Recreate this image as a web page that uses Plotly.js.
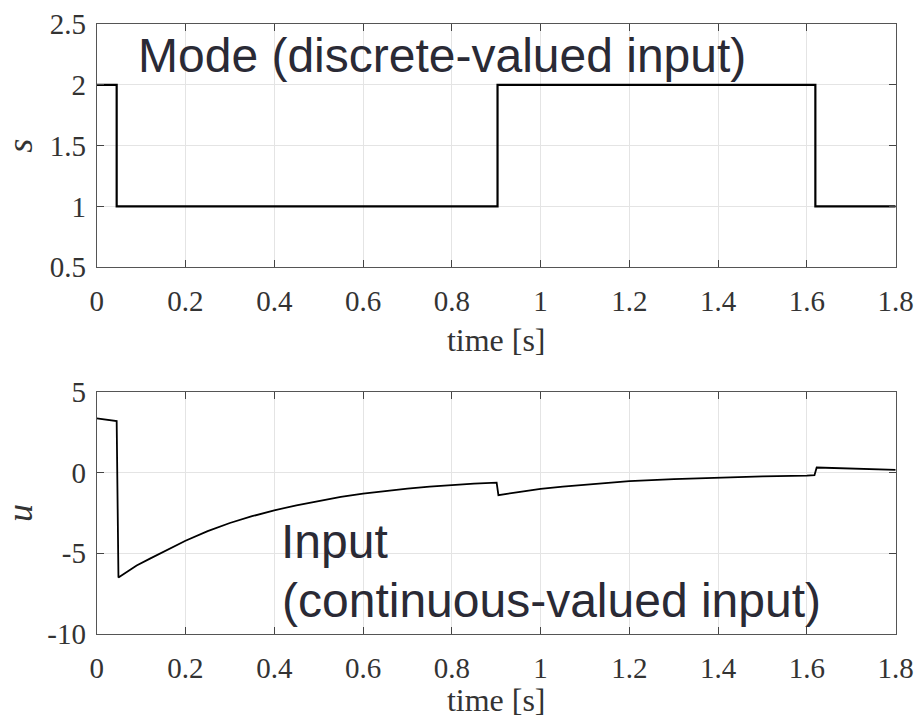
<!DOCTYPE html>
<html>
<head>
<meta charset="utf-8">
<script src="https://cdn.plot.ly/plotly-3.0.1.min.js"></script>
<style>html,body{margin:0;padding:0;background:#fff;}#chart{width:915px;height:718px;}</style>
</head>
<body>
<div id="chart"></div>
<script>
// Mode (discrete-valued input) s(t), drawn as a step (hv)
const modeTime = [0, 0.045, 0.903, 1.619, 1.8];
const modeValue = [2, 1, 2, 1, 1];

// Continuous-valued input u(t)
const inputTime = [0, 0.045, 0.049, 0.07, 0.09, 0.12, 0.15, 0.2, 0.25, 0.3, 0.35, 0.4, 0.45, 0.5, 0.55, 0.6, 0.65, 0.7, 0.75, 0.8, 0.85, 0.901,
                   0.905, 0.95, 1.0, 1.05, 1.1, 1.15, 1.2, 1.3, 1.4, 1.5, 1.6, 1.617, 1.622, 1.7, 1.8];
const inputValue = [3.37, 3.2, -6.5, -6.1, -5.75, -5.33, -4.92, -4.22, -3.62, -3.12, -2.7, -2.33, -2.02, -1.75, -1.5, -1.3, -1.13, -0.99, -0.86, -0.76, -0.68, -0.62,
                    -1.4, -1.2, -1.0, -0.87, -0.75, -0.63, -0.53, -0.4, -0.3, -0.23, -0.18, -0.16, 0.32, 0.25, 0.17];

const xTicks = [0, 0.2, 0.4, 0.6, 0.8, 1, 1.2, 1.4, 1.6, 1.8];
const sTicks = [0.5, 1, 1.5, 2, 2.5];
const uTicks = [-10, -5, 0, 5];

const W = 915, H = 718;
const serif = {family: 'Liberation Serif, Times New Roman, serif', size: 29, color: '#333333'};
const titleFont = {family: 'Liberation Serif, Times New Roman, serif', size: 32, color: '#333333'};
const yTitleFont = {family: 'Liberation Serif, Times New Roman, serif', size: 36, color: '#333333'};
const sans = {family: 'Liberation Sans, Arial, sans-serif', size: 48, color: '#2a2a35'};

function xAxis(anchor) {
  return {
    domain: [96.7 / W, 895.7 / W], anchor: anchor,
    range: [0, 1.8], tickvals: xTicks, ticktext: xTicks.map(String),
    ticks: 'inside', ticklen: 7, tickcolor: '#444', tickwidth: 1,
    showline: true, linecolor: '#555', linewidth: 1, mirror: 'allticks',
    showgrid: true, gridcolor: '#e4e4e4', gridwidth: 1, zeroline: false,
    tickfont: serif, ticklabelstandoff: 8,
    title: {text: 'time [s]', font: titleFont, standoff: 12},
    automargin: false, fixedrange: true
  };
}
function yAxis(anchor, dom, range, ticks, title) {
  return {
    domain: dom, anchor: anchor, range: range,
    tickvals: ticks, ticktext: ticks.map(String),
    ticks: 'inside', ticklen: 7, tickcolor: '#444', tickwidth: 1,
    showline: true, linecolor: '#555', linewidth: 1, mirror: 'allticks',
    showgrid: true, gridcolor: '#e4e4e4', gridwidth: 1, zeroline: false,
    tickfont: serif, ticklabelstandoff: 4,
    title: {text: title, font: yTitleFont, standoff: 10},
    automargin: false, fixedrange: true
  };
}

const data = [
  {x: modeTime, y: modeValue, xaxis: 'x', yaxis: 'y', type: 'scatter', mode: 'lines',
   line: {shape: 'hv', color: '#000', width: 2.2}, showlegend: false, hoverinfo: 'skip'},
  {x: inputTime, y: inputValue, xaxis: 'x2', yaxis: 'y2', type: 'scatter', mode: 'lines',
   line: {color: '#000', width: 1.8}, showlegend: false, hoverinfo: 'skip'}
];

const layout = {
  width: W, height: H,
  margin: {l: 0, r: 0, t: 0, b: 0},
  paper_bgcolor: '#ffffff', plot_bgcolor: '#ffffff',
  showlegend: false,
  xaxis: xAxis('y'),
  yaxis: yAxis('x', [1 - 267.3 / H, 1 - 24 / H], [0.5, 2.5], sTicks, '<i>s</i>'),
  xaxis2: xAxis('y2'),
  yaxis2: yAxis('x2', [1 - 634 / H, 1 - 392 / H], [-10, 5], uTicks, '<i>u</i>'),
  annotations: [
    {text: 'Mode (discrete-valued input)', xref: 'paper', yref: 'paper', x: 136 / W, y: 1 - 55.5 / H,
     xanchor: 'left', yanchor: 'middle', showarrow: false, font: sans},
    {text: 'Input', xref: 'paper', yref: 'paper', x: 279 / W, y: 1 - 541.5 / H,
     xanchor: 'left', yanchor: 'middle', showarrow: false, font: sans},
    {text: '(continuous-valued input)', xref: 'paper', yref: 'paper', x: 280 / W, y: 1 - 600 / H,
     xanchor: 'left', yanchor: 'middle', showarrow: false, font: sans}
  ]
};

Plotly.newPlot('chart', data, layout, {staticPlot: true, displayModeBar: false});
</script>
</body>
</html>
